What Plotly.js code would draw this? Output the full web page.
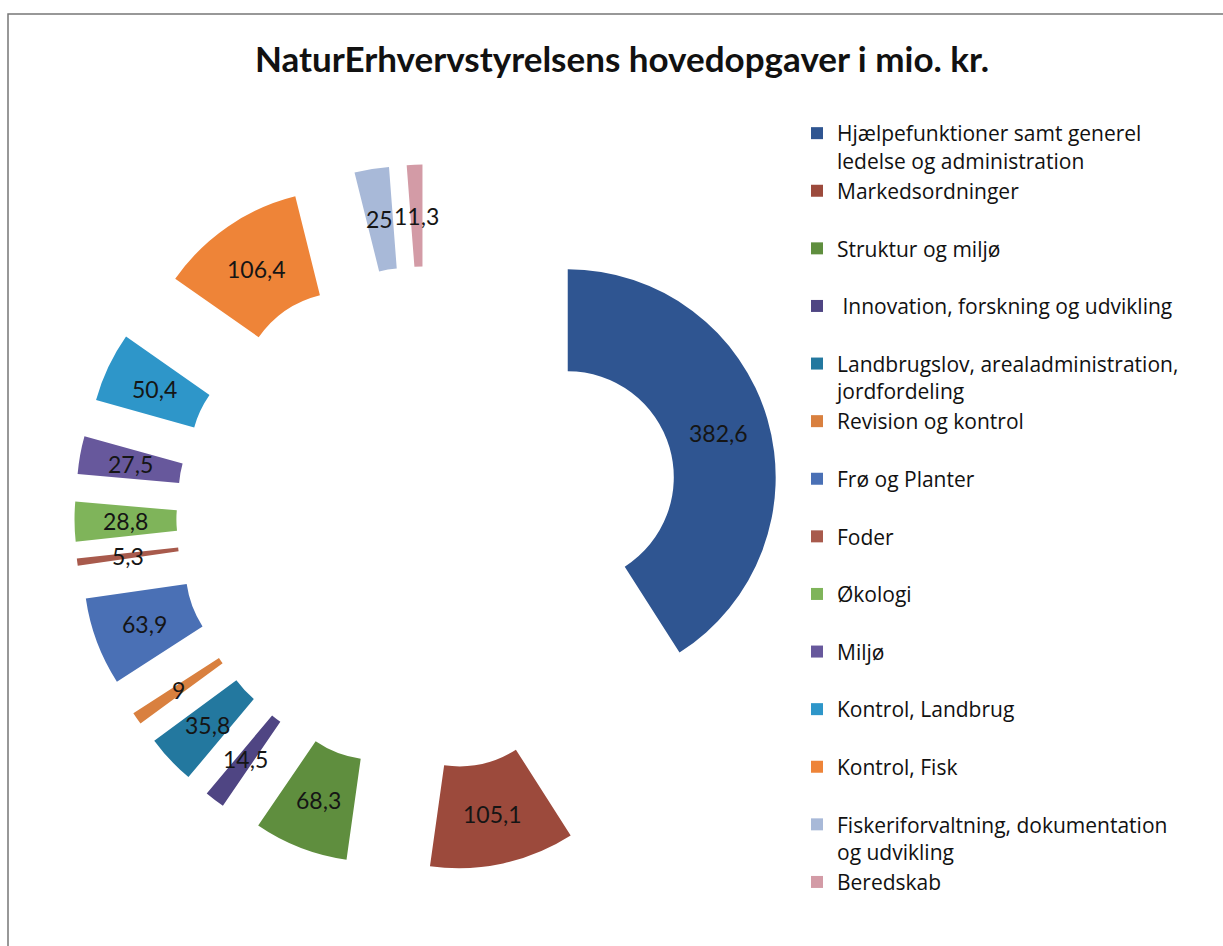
<!DOCTYPE html>
<html>
<head>
<meta charset="utf-8">
<script src="https://cdn.plot.ly/plotly-3.0.1.min.js"></script>
<style>
html,body{margin:0;padding:0;background:#fff;}
#chart{width:1223px;height:946px;}
</style>
</head>
<body>
<div id="chart"></div>
<script>
const chartTitle = "NaturErhvervstyrelsens hovedopgaver i mio. kr.";
const labels = [
  "Hjælpefunktioner samt generel<br>ledelse og administration",
  "Markedsordninger",
  "Struktur og miljø",
  "\u00a0Innovation, forskning og udvikling",
  "Landbrugslov, arealadministration,<br>jordfordeling",
  "Revision og kontrol",
  "Frø og Planter",
  "Foder",
  "Økologi",
  "Miljø",
  "Kontrol, Landbrug",
  "Kontrol, Fisk",
  "Fiskeriforvaltning, dokumentation<br>og udvikling",
  "Beredskab"
];
const values = [382.6, 105.1, 68.3, 14.5, 35.8, 9, 63.9, 5.3, 28.8, 27.5, 50.4, 106.4, 25, 11.3];
const colors = [
  "#2f5591", "#9c4a3c", "#5f8e3e", "#4f4583", "#23789f", "#d9803f", "#4a70b5",
  "#a85a4c", "#7fb45a", "#67589c", "#2e96c9", "#ee8438", "#a8b9d8", "#d39ba6"
];

// every legend entry occupies two text lines, as in the reference
const legendLabels = labels.map(l => l.indexOf("<br>") >= 0 ? l : l + "<br> ");

const W = 1223, H = 946;
const cx = 428, cy = 518, box = 707;
const HOLE = 0.51, PULL = 0.70;
const R = box / (2 * (1 + PULL));   // outer radius used by Plotly for this domain
const labelFont = {family: "Lato, 'Open Sans', sans-serif", size: 23, color: "#151515"};

const trace = {
  type: "pie",
  labels: legendLabels,
  values: values,
  sort: false,
  direction: "clockwise",
  rotation: 0,
  hole: HOLE,
  pull: values.map(() => PULL),
  marker: {colors: colors, line: {width: 0}},
  textinfo: "none",
  domain: {
    x: [(cx - box / 2) / W, (cx + box / 2) / W],
    y: [(H - cy - box / 2) / H, (H - cy + box / 2) / H]
  },
  hoverinfo: "label+value"
};

// data labels placed in the middle of each exploded ring segment (Excel style)
const total = values.reduce((a, b) => a + b, 0);
let cum = 0;
const valueAnnotations = values.map(v => {
  const mid = (cum + v / 2) / total * 2 * Math.PI;
  cum += v;
  const dist = PULL * R + (1 + HOLE) / 2 * R;
  const px = cx + dist * Math.sin(mid);
  const py = cy - dist * Math.cos(mid);
  return {
    x: px / W, y: 1 - py / H, xref: "paper", yref: "paper",
    xanchor: "center", yanchor: "middle", showarrow: false,
    text: String(v).replace(".", ","),
    font: labelFont
  };
});

const layout = {
  width: W, height: H,
  margin: {l: 0, r: 0, t: 0, b: 0},
  paper_bgcolor: "#ffffff",
  separators: ", ",
  title: {
    text: "<b>" + chartTitle + "</b>",
    font: {family: "Lato, 'Open Sans', sans-serif", size: 35, color: "#111"},
    x: 622 / W, xanchor: "center", xref: "paper",
    y: 1 - 60 / H, yanchor: "middle", yref: "container"
  },
  showlegend: true,
  legend: {
    x: 797 / W, xanchor: "left",
    y: 1 - 113 / H, yanchor: "top",
    font: {family: "'Open Sans', Lato, sans-serif", size: 21, color: "#111"},
    valign: "top",
    bgcolor: "rgba(0,0,0,0)",
    traceorder: "normal"
  },
  annotations: valueAnnotations,
  shapes: [{
    type: "rect", xref: "paper", yref: "paper",
    x0: 8 / W, x1: 1.02, y0: -0.02, y1: 1 - 14 / H,
    line: {color: "#777777", width: 1.5}, fillcolor: "rgba(0,0,0,0)", layer: "below"
  }]
};

Plotly.newPlot("chart", [trace], layout, {displayModeBar: false, staticPlot: true});
</script>
</body>
</html>
